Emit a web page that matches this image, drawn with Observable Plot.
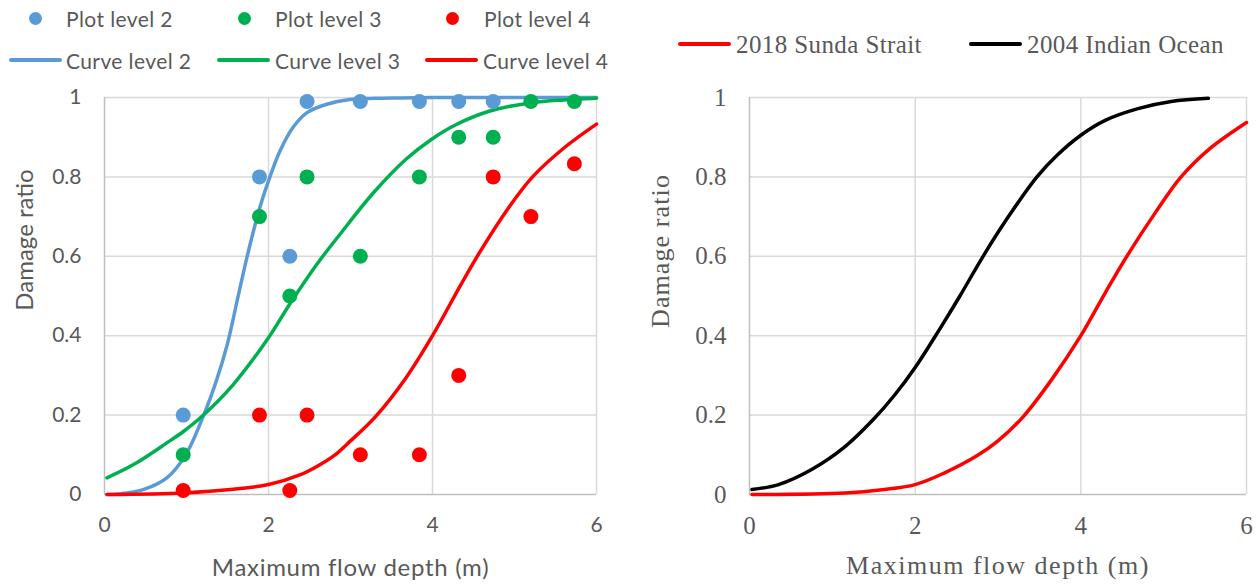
<!DOCTYPE html>
<html><head><meta charset="utf-8">
<script src="https://cdn.jsdelivr.net/npm/d3@7"></script>
<script src="https://cdn.jsdelivr.net/npm/@observablehq/plot@0.6"></script>
<style>
html,body{margin:0;padding:0;background:#fff;}
#wrap{position:relative;width:1260px;height:585px;overflow:hidden;background:#fff;}
.panel{position:absolute;top:85px;}
.lg{position:absolute;white-space:nowrap;line-height:1;}
.lgL{font-family:Lato,sans-serif;font-size:21px;color:#595959;letter-spacing:0.4px;}
.lgR{font-family:"Liberation Serif",serif;font-size:25px;color:#595959;letter-spacing:0.4px;}
</style></head><body><div id="wrap"></div>
<script>
// ---------- data ----------
const xTicks = [0, 2, 4, 6];
const yTicks = [0, 0.2, 0.4, 0.6, 0.8, 1];
const xTitle = "Maximum flow depth (m)";
const yTitle = "Damage ratio";

// observed points (left panel)
const plotX = [0.96, 1.89, 2.26, 2.47, 3.12, 3.84, 4.32, 4.74, 5.20, 5.73];
const plot2Y = [0.2, 0.8, 0.6, 0.99, 0.99, 0.99, 0.99, 0.99];
const plot3Y = [0.1, 0.7, 0.5, 0.8, 0.6, 0.8, 0.9, 0.9, 0.99, 0.99];
const plot4Y = [0.01, 0.2, 0.01, 0.2, 0.1, 0.1, 0.3, 0.8, 0.7, 0.833];

// fitted curves (left panel)
const curve2X = [0.03, 0.2, 0.48, 0.76, 0.99, 1.21, 1.37, 1.5, 1.62, 1.74, 1.89, 2.0, 2.14, 2.3, 2.47, 2.71, 2.99, 3.3, 3.6, 4, 4.5, 5, 5.5, 6];
const curve2Y = [0, 0.002, 0.013, 0.042, 0.10, 0.20, 0.29, 0.38, 0.49, 0.60, 0.72, 0.79, 0.865, 0.925, 0.962, 0.983, 0.995, 0.998, 0.999, 1, 1, 1, 1, 1];
const curve3X = [0.03, 0.36, 0.76, 0.97, 1.19, 1.57, 2.0, 2.26, 2.59, 2.87, 3.28, 3.68, 3.99, 4.29, 4.7, 5.21, 5.6, 6.0];
const curve3Y = [0.042, 0.076, 0.13, 0.16, 0.197, 0.277, 0.395, 0.48, 0.58, 0.655, 0.76, 0.845, 0.895, 0.932, 0.966, 0.987, 0.994, 0.998];
const curve4X = [0.03, 0.97, 1.57, 2.0, 2.39, 2.6, 2.8, 3.0, 3.3, 3.68, 4.0, 4.35, 4.59, 4.92, 5.22, 5.61, 6.0];
const curve4Y = [0, 0.004, 0.013, 0.025, 0.05, 0.072, 0.098, 0.135, 0.195, 0.295, 0.4, 0.53, 0.615, 0.72, 0.8, 0.874, 0.933];

// right panel curves
const sundaX = [0.03, 1.15, 1.6, 2.0, 2.35, 2.75, 3.0, 3.3, 3.65, 4.0, 4.3, 4.57, 4.9, 5.21, 5.55, 6.0];
const sundaY = [0, 0.004, 0.012, 0.025, 0.054, 0.098, 0.135, 0.195, 0.29, 0.4, 0.51, 0.605, 0.71, 0.8, 0.87, 0.937];
const indianX = [0.03, 0.35, 0.75, 1.15, 1.5, 1.75, 2.0, 2.3, 2.54, 2.82, 3.11, 3.47, 3.71, 4.0, 4.3, 4.69, 5.09, 5.54];
const indianY = [0.0125, 0.025, 0.063, 0.12, 0.19, 0.25, 0.32, 0.418, 0.50, 0.6, 0.695, 0.8, 0.854, 0.905, 0.943, 0.972, 0.99, 0.998];

const plotNames = ["Plot level 2", "Plot level 3", "Plot level 4"];
const curveNames = ["Curve level 2", "Curve level 3", "Curve level 4"];
const rightNames = ["2018 Sunda Strait", "2004 Indian Ocean"];
const levelColors = ["#5b9bd5", "#00b050", "#ff0000"];
const rightColors = ["#ff0000", "#000000"];

// ---------- tables ----------
const zip = (xs, ys, s) => ys.map((y, i) => ({x: xs[i], y, s}));
const pointRows = [
  ...zip(plotX, plot2Y, plotNames[0]),
  ...zip(plotX, plot3Y, plotNames[1]),
  ...zip(plotX, plot4Y, plotNames[2])
];
const curveRows = [
  ...zip(curve2X, curve2Y, curveNames[0]),
  ...zip(curve3X, curve3Y, curveNames[1]),
  ...zip(curve4X, curve4Y, curveNames[2])
];
const rightRows = [
  ...zip(sundaX, sundaY, rightNames[0]),
  ...zip(indianX, indianY, rightNames[1])
];

const wrap = document.getElementById("wrap");

function frameMarks() {
  return [
    Plot.gridY(yTicks.filter(d => d > 0), {stroke: "#d9d9d9", strokeOpacity: 1, strokeWidth: 1.5}),
    Plot.gridX(xTicks.filter(d => d > 0), {stroke: "#d9d9d9", strokeOpacity: 1, strokeWidth: 1.5}),
    Plot.ruleY([0], {stroke: "#bfbfbf", strokeWidth: 1.5}),
    Plot.ruleX([0], {stroke: "#bfbfbf", strokeWidth: 1.5})
  ];
}
function spaceText(svg, txt, ls) {
  d3.select(svg).selectAll("text").filter(function () { return this.textContent === txt; })
    .attr("letter-spacing", ls);
}

// ---------- left panel ----------
const left = Plot.plot({
  width: 630, height: 500,
  marginLeft: 104, marginRight: 34, marginTop: 12, marginBottom: 91,
  x: {domain: [0, 6], axis: null},
  y: {domain: [0, 1], axis: null},
  color: {domain: [...plotNames, ...curveNames], range: [...levelColors, ...levelColors]},
  style: {fontFamily: "Lato, sans-serif", fontSize: "21px", color: "#595959", background: "white", overflow: "visible"},
  marks: [
    ...frameMarks(),
    Plot.axisY(yTicks, {tickSize: 0, tickPadding: 23, tickFormat: d => String(d), label: null, fontSize: 21}),
    Plot.axisX(xTicks, {tickSize: 0, tickPadding: 23, tickFormat: d => String(d), label: null, fontSize: 21}),
    Plot.line(curveRows, {x: "x", y: "y", z: "s", stroke: "s", strokeWidth: 3.5, curve: "catmull-rom"}),
    Plot.dot(pointRows, {x: "x", y: "y", fill: "s", r: 7.5}),
    Plot.text([xTitle], {text: d => d, frameAnchor: "bottom", dy: 81, fontSize: 24, fill: "#595959"}),
    Plot.text([yTitle], {text: d => d, frameAnchor: "left", textAnchor: "middle", rotate: -90, dx: -79, dy: -56, fontSize: 24, fill: "#595959"})
  ]
});
spaceText(left, xTitle, "0.7px");
left.classList.add("panel");
left.style.left = "0px";
wrap.appendChild(left);

// ---------- right panel ----------
const right = Plot.plot({
  width: 630, height: 500,
  marginLeft: 119, marginRight: 14, marginTop: 12, marginBottom: 91,
  x: {domain: [0, 6], axis: null},
  y: {domain: [0, 1], axis: null},
  color: {domain: rightNames, range: rightColors},
  style: {fontFamily: "'Liberation Serif', serif", fontSize: "25px", color: "#595959", background: "white", overflow: "visible"},
  marks: [
    ...frameMarks(),
    Plot.axisY(yTicks, {tickSize: 0, tickPadding: 23, tickFormat: d => String(d), label: null, fontSize: 25}),
    Plot.axisX(xTicks, {tickSize: 0, tickPadding: 22, tickFormat: d => String(d), label: null, fontSize: 25}),
    Plot.line(rightRows, {x: "x", y: "y", z: "s", stroke: "s", strokeWidth: 3.5, curve: "catmull-rom"}),
    Plot.text([xTitle], {text: d => d, frameAnchor: "bottom", dy: 79, fontSize: 26, fill: "#595959"}),
    Plot.text([yTitle], {text: d => d, frameAnchor: "left", textAnchor: "middle", rotate: -90, dx: -89, dy: -45, fontSize: 26, fill: "#595959"})
  ]
});
spaceText(right, xTitle, "1.5px");
spaceText(right, yTitle, "1.1px");
right.classList.add("panel");
right.style.left = "630px";
wrap.appendChild(right);

// ---------- legends ----------
function addText(txt, x, cy, cls, fs) {
  const s = document.createElement("div");
  s.className = "lg " + cls;
  s.textContent = txt;
  s.style.left = x + "px";
  s.style.top = (cy - fs / 2) + "px";
  wrap.appendChild(s);
}
function addDot(cx, cy, col) {
  const d = document.createElement("div");
  d.style.cssText = `position:absolute;left:${cx - 6.5}px;top:${cy - 6.5}px;width:13px;height:13px;border-radius:50%;background:${col}`;
  wrap.appendChild(d);
}
function addLine(x0, x1, cy, col) {
  const d = document.createElement("div");
  d.style.cssText = `position:absolute;left:${x0}px;top:${cy - 2}px;width:${x1 - x0}px;height:4px;border-radius:2px;background:${col}`;
  wrap.appendChild(d);
}
const dotXs = [35, 244, 452], dotTextXs = [66, 275, 484];
const lineX0 = [9, 217, 425], lineTextXs = [66, 275, 483];
plotNames.forEach((n, i) => { addDot(dotXs[i], 18, levelColors[i]); addText(n, dotTextXs[i], 18, "lgL", 21); });
curveNames.forEach((n, i) => { addLine(lineX0[i], lineX0[i] + 53, 60, levelColors[i]); addText(n, lineTextXs[i], 60, "lgL", 21); });
const rLineX0 = [678, 969], rTextXs = [736, 1027];
rightNames.forEach((n, i) => { addLine(rLineX0[i], rLineX0[i] + 53, 44, rightColors[i]); addText(n, rTextXs[i], 44, "lgR", 25); });
</script></body></html>
